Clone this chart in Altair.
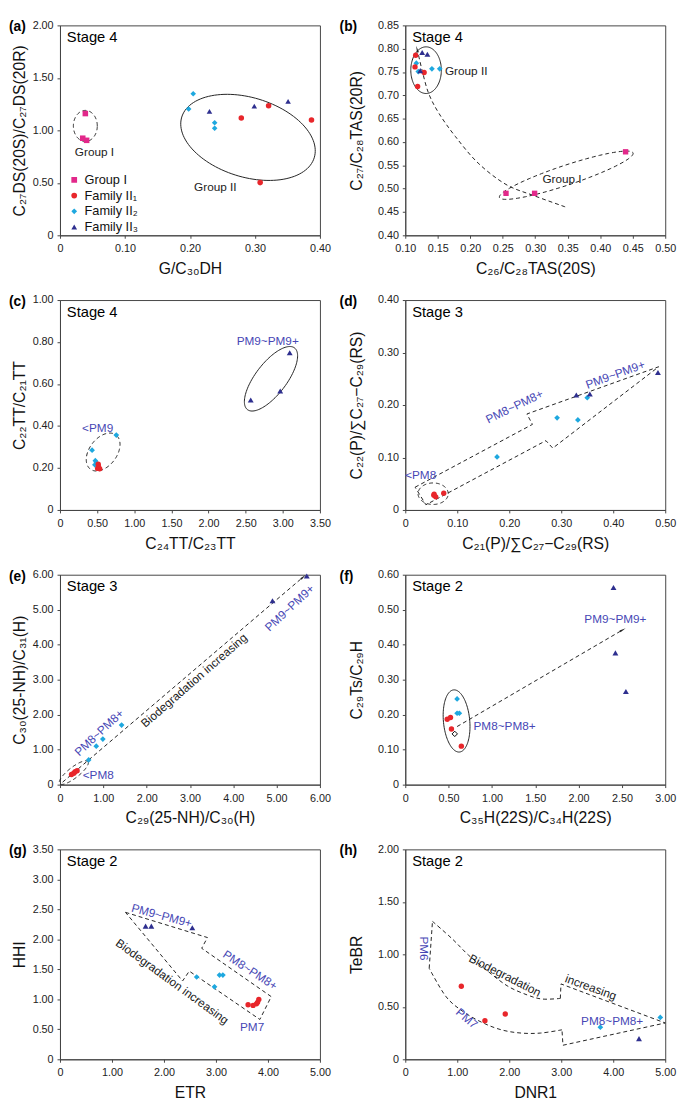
import numpy as np
import pandas as pd
import altair as alt

FONT = "Liberation Sans"
PINK, RED, CYAN, NAVY = "#E2288A", "#E8262B", "#1EA8DF", "#2E2F8F"
BLUE_TXT = "#4747B5"
INK = "#222222"
AXC = "#444444"
W, H = 265, 214

LEGEND_NAMES = ["Group I", "Family II₁", "Family II₂", "Family II₃"]

# ---------------- tick values ----------------
A_XTICKS = [0, 0.10, 0.20, 0.30, 0.40]
A_YTICKS = [0, 0.50, 1.00, 1.50, 2.00]
B_XTICKS = [0.10, 0.15, 0.20, 0.25, 0.30, 0.35, 0.40, 0.45, 0.50]
B_YTICKS = [0.40, 0.45, 0.50, 0.55, 0.60, 0.65, 0.70, 0.75, 0.80, 0.85]
C_XTICKS = [0, 0.50, 1.00, 1.50, 2.00, 2.50, 3.00, 3.50]
C_YTICKS = [0, 0.20, 0.40, 0.60, 0.80, 1.00]
D_XTICKS = [0, 0.10, 0.20, 0.30, 0.40, 0.50]
D_YTICKS = [0, 0.10, 0.20, 0.30, 0.40]
E_XTICKS = [0, 1.00, 2.00, 3.00, 4.00, 5.00, 6.00]
E_YTICKS = [0, 1.00, 2.00, 3.00, 4.00, 5.00, 6.00]
F_XTICKS = [0, 0.50, 1.00, 1.50, 2.00, 2.50, 3.00]
F_YTICKS = [0, 0.10, 0.20, 0.30, 0.40, 0.50, 0.60]
G_XTICKS = [0, 1.00, 2.00, 3.00, 4.00, 5.00]
G_YTICKS = [0, 0.50, 1.00, 1.50, 2.00, 2.50, 3.00, 3.50]
H_XTICKS = [0, 1.00, 2.00, 3.00, 4.00, 5.00]
H_YTICKS = [0, 0.50, 1.00, 1.50, 2.00]

# ---------------- data ----------------
# (a)
A_G1_X = [0.039, 0.035, 0.041]
A_G1_Y = [1.16, 0.925, 0.905]
A_F1_X = [0.279, 0.321, 0.387, 0.308]
A_F1_Y = [1.117, 1.235, 1.098, 0.502]
A_F2_X = [0.205, 0.198, 0.238, 0.238]
A_F2_Y = [1.348, 1.204, 1.073, 1.020]
A_F3_X = [0.230, 0.299, 0.351]
A_F3_Y = [1.180, 1.230, 1.276]
# (b)
B_G1_X = [0.255, 0.299, 0.439]
B_G1_Y = [0.490, 0.490, 0.579]
B_F1_X = [0.116, 0.115, 0.129, 0.119]
B_F1_Y = [0.786, 0.761, 0.749, 0.719]
B_F2_X = [0.117, 0.120, 0.141, 0.153]
B_F2_Y = [0.769, 0.751, 0.757, 0.757]
B_F3_X = [0.126, 0.134, 0.123]
B_F3_Y = [0.792, 0.788, 0.753]
# (c)
C_F1_X = [0.515, 0.507, 0.535, 0.520]
C_F1_Y = [0.218, 0.198, 0.196, 0.205]
C_F2_X = [0.758, 0.432, 0.476, 0.490, 0.470]
C_F2_Y = [0.357, 0.285, 0.235, 0.225, 0.215]
C_F3_X = [2.568, 2.965, 3.093]
C_F3_Y = [0.524, 0.567, 0.749]
# (d)
D_F1_X = [0.0555, 0.0586, 0.074, 0.055]
D_F1_Y = [0.030, 0.025, 0.032, 0.028]
D_F2_X = [0.350, 0.292, 0.332, 0.1765]
D_F2_Y = [0.214, 0.1755, 0.1715, 0.101]
D_F3_X = [0.486, 0.329, 0.355]
D_F3_Y = [0.262, 0.219, 0.221]
# (e)
E_F1_X = [0.395, 0.319, 0.266, 0.350]
E_F1_Y = [0.400, 0.326, 0.288, 0.370]
E_F2_X = [1.422, 0.989, 0.837, 0.662]
E_F2_Y = [1.702, 1.302, 1.098, 0.707]
E_F3_X = [4.905, 5.696]
E_F3_Y = [5.256, 5.963]
# (f)
F_F1_X = [0.484, 0.522, 0.533, 0.647]
F_F1_Y = [0.187, 0.192, 0.159, 0.110]
F_F2_X = [0.598, 0.598, 0.624]
F_F2_Y = [0.245, 0.204, 0.204]
F_F3_X = [2.403, 2.425, 2.546]
F_F3_Y = [0.5636, 0.3766, 0.2664]
F_OPEN_X = [0.571]
F_OPEN_Y = [0.145]
# (g)
G_F1_X = [3.618, 3.714, 3.779, 3.824, 3.800]
G_F1_Y = [0.909, 0.898, 0.925, 0.996, 0.950]
G_F2_X = [2.629, 2.972, 3.068, 3.133]
G_F2_Y = [1.372, 1.208, 1.404, 1.404]
G_F3_X = [1.647, 1.757, 2.545]
G_F3_Y = [2.221, 2.221, 2.194]
# (h)
H_F1_X = [1.078, 1.532, 1.923]
H_F1_Y = [0.696, 0.368, 0.431]
H_F2_X = [3.752, 4.905]
H_F2_Y = [0.306, 0.399]
H_F3_X = [4.496]
H_F3_Y = [0.197]

LAB = "datum.value === 0 ? '0' : format(datum.value, '.2f')"


# ---------------- helpers ----------------
def ellipse(c, a, b, n=120):
    t = np.linspace(0, 2 * np.pi, n)
    return pd.DataFrame({
        "x": c[0] + a[0] * np.cos(t) + b[0] * np.sin(t),
        "y": c[1] + a[1] * np.cos(t) + b[1] * np.sin(t),
        "i": np.arange(n),
    })


def path(pts, close=False):
    if close:
        pts = list(pts) + [pts[0]]
    return pd.DataFrame({"x": [p[0] for p in pts], "y": [p[1] for p in pts],
                         "i": list(range(len(pts)))})


def outline(X, Y, df, dashed=True, interp="linear"):
    kw = dict(color=INK, strokeWidth=1, interpolate=interp)
    if dashed:
        kw["strokeDash"] = [4, 3]
    return alt.Chart(df).mark_line(**kw).encode(x=X, y=Y, order="i:Q")


def dots(X, Y, xs, ys, color, shape, size=32):
    return alt.Chart(pd.DataFrame({"x": xs, "y": ys})).mark_point(
        shape=shape, filled=True, color=color, size=size, opacity=1
    ).encode(x=X, y=Y)


def head(X, Y, x, y, angle):
    return alt.Chart(pd.DataFrame({"x": [x], "y": [y]})).mark_point(
        shape="wedge", filled=True, color=INK, size=60, angle=angle, opacity=1
    ).encode(x=X, y=Y)


def label(X, Y, x, y, text, color=INK, angle=0, align="center", size=12):
    return alt.Chart(pd.DataFrame({"x": [x], "y": [y], "t": [text]})).mark_text(
        font=FONT, fontSize=size, color=color, angle=angle, align=align, baseline="middle"
    ).encode(x=X, y=Y, text="t:N")


def pix_text(text, px, py, size, weight="normal"):
    return alt.Chart(pd.DataFrame({"t": [text]})).mark_text(
        font=FONT, fontSize=size, fontWeight=weight, align="left", baseline="middle", color="black"
    ).encode(x=alt.value(px), y=alt.value(py), text="t:N")


def axes(col, xdom, xt, xtitle, ydom, yt, ytitle):
    ytp = 5 if col == 0 else 13
    X = alt.X("x:Q", scale=alt.Scale(domain=xdom, nice=False, zero=False),
              axis=alt.Axis(values=xt, labelExpr=LAB, title=xtitle))
    Y = alt.Y("y:Q", scale=alt.Scale(domain=ydom, nice=False, zero=False),
              axis=alt.Axis(values=yt, labelExpr=LAB, title=ytitle, titlePadding=ytp))
    return X, Y


def finish(layers, col, tag, stage):
    tagx = -52 if col == 0 else -67
    layers = list(layers) + [pix_text(tag, tagx, 2, 14, "bold"), pix_text(stage, 7, 12, 15)]
    return alt.layer(*layers).properties(width=W, height=H)


def families(X, Y, f1, f2, f3):
    out = []
    if f2:
        out.append(dots(X, Y, f2[0], f2[1], CYAN, "diamond", 34))
    if f1:
        out.append(dots(X, Y, f1[0], f1[1], RED, "circle", 30))
    if f3:
        out.append(dots(X, Y, f3[0], f3[1], NAVY, "triangle-up", 36))
    return out


# ---------------- (a) ----------------
X, Y = axes(0, [0, 0.4], A_XTICKS, "G/C₃₀DH", [0, 2], A_YTICKS, "C₂₇DS(20S)/C₂₇DS(20R)")
a_df = pd.DataFrame({
    "x": A_G1_X + A_F1_X + A_F2_X + A_F3_X,
    "y": A_G1_Y + A_F1_Y + A_F2_Y + A_F3_Y,
    "g": [LEGEND_NAMES[0]] * len(A_G1_X) + [LEGEND_NAMES[1]] * len(A_F1_X)
         + [LEGEND_NAMES[2]] * len(A_F2_X) + [LEGEND_NAMES[3]] * len(A_F3_X),
})
leg = alt.Legend(title=None, orient="none", legendX=8, legendY=151, labelFontSize=13,
                 labelFont=FONT, symbolSize=34, rowPadding=2, labelOffset=4, padding=0,
                 labelColor="#111111", symbolStrokeWidth=0)
a_pts = alt.Chart(a_df).mark_point(filled=True, size=32, opacity=1).encode(
    x=X, y=Y,
    color=alt.Color("g:N", scale=alt.Scale(domain=LEGEND_NAMES, range=[PINK, RED, CYAN, NAVY]), legend=leg),
    shape=alt.Shape("g:N", scale=alt.Scale(domain=LEGEND_NAMES, range=["square", "circle", "diamond", "triangle-up"]), legend=leg),
)
pa = finish([
    outline(X, Y, ellipse((0.039, 1.042), (0.0184, 0), (0, 0.148)), True),
    outline(X, Y, ellipse((0.2893, 0.933), (0.1031, -0.0936), (-0.00906, 0.3994)), False),
    a_pts,
    label(X, Y, 0.053, 0.79, "Group I"),
    label(X, Y, 0.239, 0.455, "Group II"),
], 0, "(a)", "Stage 4")

# ---------------- (b) ----------------
X, Y = axes(1, [0.1, 0.5], B_XTICKS, "C₂₆/C₂₈TAS(20S)", [0.4, 0.85], B_YTICKS, "C₂₇/C₂₈TAS(20R)")
b_curve = [(0.346, 0.461), (0.298, 0.485), (0.255, 0.509), (0.212, 0.555), (0.177, 0.612),
           (0.152, 0.661), (0.136, 0.704), (0.126, 0.753), (0.119, 0.795)]
pb = finish([
    outline(X, Y, ellipse((0.132, 0.754), (0.0235, 0), (0, 0.050)), False),
    outline(X, Y, ellipse((0.3477, 0.5288), (0.1028, 0.0477), (0.00475, -0.0201)), True),
    outline(X, Y, path(b_curve), True, "cardinal"),
    head(X, Y, 0.1185, 0.797, 346),
    dots(X, Y, B_G1_X, B_G1_Y, PINK, "square", 30),
] + families(X, Y, (B_F1_X, B_F1_Y), (B_F2_X, B_F2_Y), (B_F3_X, B_F3_Y)) + [
    label(X, Y, 0.161, 0.753, "Group II", align="left"),
    label(X, Y, 0.311, 0.521, "Group I", align="left"),
], 1, "(b)", "Stage 4")

# ---------------- (c) ----------------
X, Y = axes(0, [0, 3.5], C_XTICKS, "C₂₄TT/C₂₃TT", [0, 1], C_YTICKS, "C₂₂TT/C₂₁TT")
pc = finish([
    outline(X, Y, ellipse((2.841, 0.625), (0.317, 0.147), (0.167, -0.045)), False),
    outline(X, Y, ellipse((0.581, 0.276), (0.185, 0.0775), (0.132, -0.0465)), True),
] + families(X, Y, (C_F1_X, C_F1_Y), (C_F2_X, C_F2_Y), (C_F3_X, C_F3_Y)) + [
    label(X, Y, 2.797, 0.803, "PM9~PM9+", BLUE_TXT),
    label(X, Y, 0.507, 0.392, "<PM9", BLUE_TXT),
], 0, "(c)", "Stage 4")

# ---------------- (d) ----------------
X, Y = axes(1, [0, 0.5], D_XTICKS, "C₂₁(P)/∑C₂₇−C₂₉(RS)", [0, 0.4], D_YTICKS, "C₂₂(P)/∑C₂₇−C₂₉(RS)")
d_arrow = [(0.0189, 0.0434), (0.2446, 0.1631), (0.2339, 0.1829), (0.4874, 0.2729),
           (0.2837, 0.1178), (0.2705, 0.1321), (0.0397, 0.0099)]
pd_ = finish([
    outline(X, Y, path(d_arrow, close=True), True),
    outline(X, Y, ellipse((0.0536, 0.031), (0.029, 0), (0, 0.0205)), True),
] + families(X, Y, (D_F1_X, D_F1_Y), (D_F2_X, D_F2_Y), (D_F3_X, D_F3_Y)) + [
    label(X, Y, 0.0296, 0.067, "<PM8", BLUE_TXT),
    label(X, Y, 0.210, 0.197, "PM8~PM8+", BLUE_TXT, angle=334),
    label(X, Y, 0.404, 0.258, "PM9~PM9+", BLUE_TXT, angle=340),
], 1, "(d)", "Stage 3")

# ---------------- (e) ----------------
X, Y = axes(0, [0, 6], E_XTICKS, "C₂₉(25-NH)/C₃₀(H)", [0, 6], E_YTICKS, "C₃₀(25-NH)/C₃₁(H)")
pe = finish([
    outline(X, Y, ellipse((0.319, 0.344), (0.327, 0.316), (0.076, -0.121)), True),
    outline(X, Y, path([(0.06, 0.07), (5.60, 5.92)]), True),
    head(X, Y, 5.60, 5.92, 49),
] + families(X, Y, (E_F1_X, E_F1_Y), (E_F2_X, E_F2_Y), (E_F3_X, E_F3_Y)) + [
    label(X, Y, 3.095, 2.977, "Biodegradation increasing", angle=319),
    label(X, Y, 0.905, 1.488, "PM8~PM8+", BLUE_TXT, angle=317),
    label(X, Y, 0.525, 0.26, "<PM8", BLUE_TXT, align="left"),
    label(X, Y, 5.30, 5.05, "PM9~PM9+", BLUE_TXT, angle=317),
], 0, "(e)", "Stage 3")

# ---------------- (f) ----------------
X, Y = axes(1, [0, 3], F_XTICKS, "C₃₅H(22S)/C₃₄H(22S)", [0, 0.6], F_YTICKS, "C₂₉Ts/C₂₉H")
open_pt = alt.Chart(pd.DataFrame({"x": F_OPEN_X, "y": F_OPEN_Y})).mark_point(
    shape="diamond", filled=True, fill="white", stroke="black", strokeWidth=1, size=30, opacity=1
).encode(x=X, y=Y)
pf = finish([
    outline(X, Y, ellipse((0.592, 0.182), (-0.034, 0.0888), (0.151, 0.0037)), False),
    outline(X, Y, path([(0.598, 0.166), (2.50, 0.441)]), True),
    head(X, Y, 2.50, 0.441, 60),
] + families(X, Y, (F_F1_X, F_F1_Y), (F_F2_X, F_F2_Y), (F_F3_X, F_F3_Y)) + [
    open_pt,
    label(X, Y, 2.425, 0.474, "PM9~PM9+", BLUE_TXT),
    label(X, Y, 1.146, 0.166, "PM8~PM8+", BLUE_TXT),
], 1, "(f)", "Stage 2")

# ---------------- (g) ----------------
X, Y = axes(0, [0, 5], G_XTICKS, "ETR", [0, 3.5], G_YTICKS, "HHI")
g_arrow = [(1.260, 2.450), (2.836, 2.030), (2.726, 1.851), (4.063, 1.045),
           (3.844, 0.664), (2.487, 1.470), (2.358, 1.306)]
pg = finish([
    outline(X, Y, path(g_arrow, close=True), True),
] + families(X, Y, (G_F1_X, G_F1_Y), (G_F2_X, G_F2_Y), (G_F3_X, G_F3_Y)) + [
    label(X, Y, 1.957, 2.395, "PM9~PM9+", BLUE_TXT, angle=15),
    label(X, Y, 3.656, 1.486, "PM8~PM8+", BLUE_TXT, angle=33),
    label(X, Y, 3.695, 0.533, "PM7", BLUE_TXT),
    label(X, Y, 2.158, 1.296, "Biodegradation increasing", angle=36),
], 0, "(g)", "Stage 2")

# ---------------- (h) ----------------
X, Y = axes(1, [0, 5], H_XTICKS, "DNR1", [0, 2], H_YTICKS, "TeBR")
h_upper = [(0.523, 1.314), (0.902, 1.148), (1.217, 0.992), (1.595, 0.836), (1.974, 0.696),
           (2.352, 0.612), (2.636, 0.574), (2.982, 0.580)]
h_head = [(2.982, 0.580), (2.995, 0.718), (5.0, 0.346), (3.033, 0.134), (3.014, 0.281)]
h_lower = [(3.014, 0.281), (2.604, 0.250), (2.226, 0.250), (1.847, 0.281), (1.469, 0.353),
           (1.091, 0.462), (0.776, 0.602), (0.460, 0.867)]
h_left = [(0.460, 0.867), (0.523, 1.314)]
ph = finish([
    outline(X, Y, path(h_upper), True, "cardinal"),
    outline(X, Y, path(h_head), True),
    outline(X, Y, path(h_lower), True, "cardinal"),
    outline(X, Y, path(h_left), True),
] + families(X, Y, (H_F1_X, H_F1_Y), (H_F2_X, H_F2_Y), (H_F3_X, H_F3_Y)) + [
    label(X, Y, 0.366, 1.055, "PM6", BLUE_TXT, angle=90),
    label(X, Y, 1.185, 0.390, "PM7", BLUE_TXT, angle=40),
    label(X, Y, 3.979, 0.362, "PM8~PM8+", BLUE_TXT),
    label(X, Y, 1.917, 0.799, "Biodegradation", angle=27),
    label(X, Y, 3.569, 0.686, "increasing", angle=20),
], 1, "(h)", "Stage 2")

chart = alt.concat(
    pa, pb, pc, pd_, pe, pf, pg, ph,
    columns=2, spacing={"row": 66, "column": 87}, bounds="flush"
).properties(padding=0).configure_axis(
    grid=False, domainColor=AXC, tickColor=AXC, tickSize=3, labelFontSize=11,
    labelColor="#222222", titleFontSize=16, titleFontWeight="normal", titleColor="#111111",
    labelFont=FONT, titleFont=FONT, labelPadding=4, labelFlush=False, labelOverlap=False
).configure_axisX(titlePadding=7, labelPadding=5).configure_view(stroke=AXC, strokeWidth=1)

chart.save("out.html", embed_options={"renderer": "svg", "actions": False})
